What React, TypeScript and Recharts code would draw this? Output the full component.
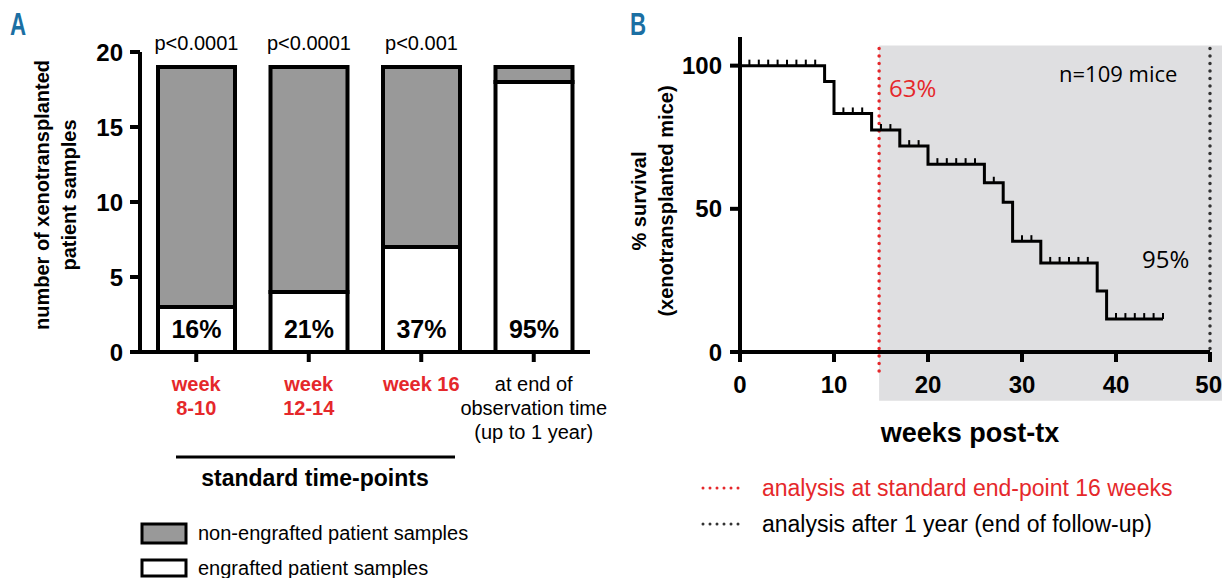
import { BarChart, Bar, XAxis, YAxis, LabelList, ComposedChart, Line, Scatter, ReferenceArea, ReferenceLine } from 'recharts';

// Panel A: engraftment per time-point
const categories = ['week\n8-10', 'week\n12-14', 'week 16', 'at end of\nobservation time\n(up to 1 year)'];
const standardPoint = [true, true, true, false]; // red + bold labels
const engrafted = [3, 4, 7, 18];
const nonEngrafted = [16, 15, 12, 1];
const pValues = ['p<0.0001', 'p<0.0001', 'p<0.001', ''];
const engraftedPct = ['16%', '21%', '37%', '95%'];
const countTicks = [0, 5, 10, 15, 20];

// Panel B: Kaplan-Meier survival of xenotransplanted mice
const eventWeeks = [0, 9, 10, 14, 17, 20, 26, 28, 29, 32, 38, 39, 45];
const survival = [100, 94.5, 83.3, 77.5, 71.9, 65.6, 59.1, 52.3, 38.7, 31.1, 21.3, 11.5, 11.5];
const censorWeeks = [1, 2, 3, 4, 5, 6, 7, 8, 11, 12, 13, 15, 16, 18, 19, 21, 22, 23, 24, 25, 27, 30, 31, 33, 34, 35, 36, 37, 40, 41, 42, 43, 44, 45];
const weekTicks = [0, 10, 20, 30, 40, 50];
const survivalTicks = [0, 50, 100];
const standardEndpoint = 14.8;
const followUpEnd = 50;

const RED = '#e5282b';
const GREY = '#999999';
const SHADE = '#dfdfe1';
const sans = "'Liberation Sans', Arial, Helvetica, sans-serif";
const open = "'Open Sans', 'DejaVu Sans', sans-serif";

const barData = categories.map((cat, i) => ({
    cat,
    engrafted: engrafted[i],
    non: nonEngrafted[i],
    p: pValues[i],
    pct: engraftedPct[i],
}));

const lineData = eventWeeks.map((t, i) => ({ t, s: survival[i] }));

// survival level at week w (step function)
function survivalAt(w: number): number {
    let s = survival[0];
    eventWeeks.forEach((t, i) => {
        if (t <= w) s = survival[i];
    });
    return s;
}
const censorData = censorWeeks.map((t) => ({ t, s: survivalAt(t) }));

function CategoryTick(props: any) {
    const { x, y, payload } = props;
    const i = categories.indexOf(payload.value);
    const lines = String(payload.value).split('\n');
    const std = standardPoint[i];
    return (
        <text x={x} y={y} textAnchor="middle" fontFamily={sans} fontSize={20}
            fontWeight={std ? 700 : 400} fill={std ? RED : '#000'}>
            {lines.map((l, k) => (
                <tspan key={k} x={x} dy={k === 0 ? 29 : 24}>{l}</tspan>
            ))}
        </text>
    );
}

function CensorTick(props: any) {
    const { cx, cy } = props;
    return <line x1={cx} x2={cx} y1={cy} y2={cy - 6} stroke="#000" strokeWidth={2} />;
}

const axisStyle = { stroke: '#000', strokeWidth: 4 };
const tickFont = { fill: '#000', fontSize: 24, fontWeight: 700, fontFamily: sans };

function PanelA() {
    return (
        <BarChart width={620} height={578} data={barData}
            margin={{ top: 52, right: 30, left: 80, bottom: 126 }} barCategoryGap="16%">
            <XAxis dataKey="cat" interval={0} height={100} tickSize={10} tickMargin={0}
                axisLine={axisStyle} tickLine={axisStyle} tick={<CategoryTick />} />
            <YAxis domain={[0, 20]} ticks={countTicks} width={60} tickSize={10} tickMargin={7}
                axisLine={axisStyle} tickLine={axisStyle} tick={tickFont} />
            <Bar dataKey="engrafted" stackId="a" fill="#fff" stroke="#000" strokeWidth={4} isAnimationActive={false}>
                <LabelList dataKey="pct" position="insideBottom" offset={14}
                    style={{ fill: '#000', fontSize: 25, fontWeight: 700, fontFamily: sans }} />
            </Bar>
            <Bar dataKey="non" stackId="a" fill={GREY} stroke="#000" strokeWidth={4} isAnimationActive={false}>
                <LabelList dataKey="p" position="top" offset={17}
                    style={{ fill: '#000', fontSize: 20, fontFamily: sans }} />
            </Bar>
        </BarChart>
    );
}

function PanelB() {
    return (
        <ComposedChart width={602} height={578} margin={{ top: 37, right: 12, left: 60, bottom: 186 }}>
            <ReferenceArea x1={standardEndpoint} x2={51.3} y1={-17} y2={107}
                fill={SHADE} fillOpacity={1} stroke="none" ifOverflow="visible" />
            <XAxis type="number" dataKey="t" domain={[0, 50]} ticks={weekTicks} height={40}
                tickSize={10} tickMargin={14} axisLine={axisStyle} tickLine={axisStyle} tick={tickFont} />
            <YAxis type="number" dataKey="s" domain={[0, 110]} ticks={survivalTicks} width={60}
                tickSize={10} tickMargin={8} axisLine={axisStyle} tickLine={axisStyle} tick={tickFont} />
            <ReferenceLine segment={[{ x: standardEndpoint, y: 106 }, { x: standardEndpoint, y: -9 }]}
                stroke={RED} strokeWidth={3.5} strokeDasharray="0 7.5" strokeLinecap="round" ifOverflow="visible" />
            <ReferenceLine segment={[{ x: followUpEnd, y: 106 }, { x: followUpEnd, y: 0 }]}
                stroke="#333" strokeWidth={3.5} strokeDasharray="0 7.5" strokeLinecap="round" ifOverflow="visible" />
            <Line data={lineData} dataKey="s" type="stepAfter" stroke="#000" strokeWidth={3}
                dot={false} isAnimationActive={false} />
            <Scatter data={censorData} dataKey="s" shape={<CensorTick />} isAnimationActive={false} />
        </ComposedChart>
    );
}

function Overlay() {
    return (
        <svg width={1222} height={578} style={{ position: 'absolute', left: 0, top: 0, pointerEvents: 'none' }}>
            <text transform="translate(10,35) scale(0.72,1)" fontFamily={sans} fontWeight={700} fontSize={31} fill="#1b6fa3">A</text>
            <text transform="translate(630,35) scale(0.72,1)" fontFamily={sans} fontWeight={700} fontSize={31} fill="#1b6fa3">B</text>

            {/* panel A axis title */}
            <g transform="translate(42,195) rotate(-90)" fontFamily={sans} fontWeight={700} fontSize={20}>
                <text x={0} y={7} textAnchor="middle">number of xenotransplanted</text>
                <text x={0} y={34} textAnchor="middle">patient samples</text>
            </g>
            <line x1={176} x2={455} y1={457} y2={457} stroke="#000" strokeWidth={3} />
            <text x={315} y={486} textAnchor="middle" fontFamily={sans} fontWeight={700} fontSize={23}>standard time-points</text>
            <rect x={142} y={524} width={44} height={19} fill={GREY} stroke="#000" strokeWidth={3} />
            <text x={198} y={540} fontFamily={sans} fontSize={20}>non-engrafted patient samples</text>
            <rect x={142} y={560} width={44} height={16} fill="#fff" stroke="#000" strokeWidth={3} />
            <text x={198} y={575} fontFamily={sans} fontSize={20}>engrafted patient samples</text>

            {/* panel B annotations */}
            <g transform="translate(639,201) rotate(-90)" fontFamily={sans} fontWeight={700} fontSize={20}>
                <text x={0} y={7} textAnchor="middle">% survival</text>
                <text x={0} y={34} textAnchor="middle">(xenotransplanted mice)</text>
            </g>
            <text x={889} y={97} fontFamily={open} fontSize={24} fill={RED}>63%</text>
            <text x={1059} y={82} fontFamily={open} fontSize={22} fill="#000">n=109 mice</text>
            <text x={1142} y={268} fontFamily={open} fontSize={24} fill="#000">95%</text>
            <text x={970} y={442} textAnchor="middle" fontFamily={sans} fontWeight={700} fontSize={27}>weeks post-tx</text>
            <line x1={703} x2={745} y1={488} y2={488} stroke={RED} strokeWidth={3} strokeDasharray="0 7" strokeLinecap="round" />
            <text x={762} y={496} fontFamily={sans} fontSize={23} fill={RED}>analysis at standard end-point 16 weeks</text>
            <line x1={703} x2={745} y1={524} y2={524} stroke="#333" strokeWidth={3} strokeDasharray="0 7" strokeLinecap="round" />
            <text x={762} y={532} fontFamily={sans} fontSize={23} fill="#000">analysis after 1 year (end of follow-up)</text>
        </svg>
    );
}

export default function App() {
    return (
        <div style={{ position: 'absolute', left: 0, top: 0, width: 1222, height: 578, background: '#fff' }}>
            <div style={{ position: 'absolute', left: 0, top: 0 }}>
                <PanelA />
            </div>
            <div style={{ position: 'absolute', left: 620, top: 0 }}>
                <PanelB />
            </div>
            <Overlay />
        </div>
    );
}
